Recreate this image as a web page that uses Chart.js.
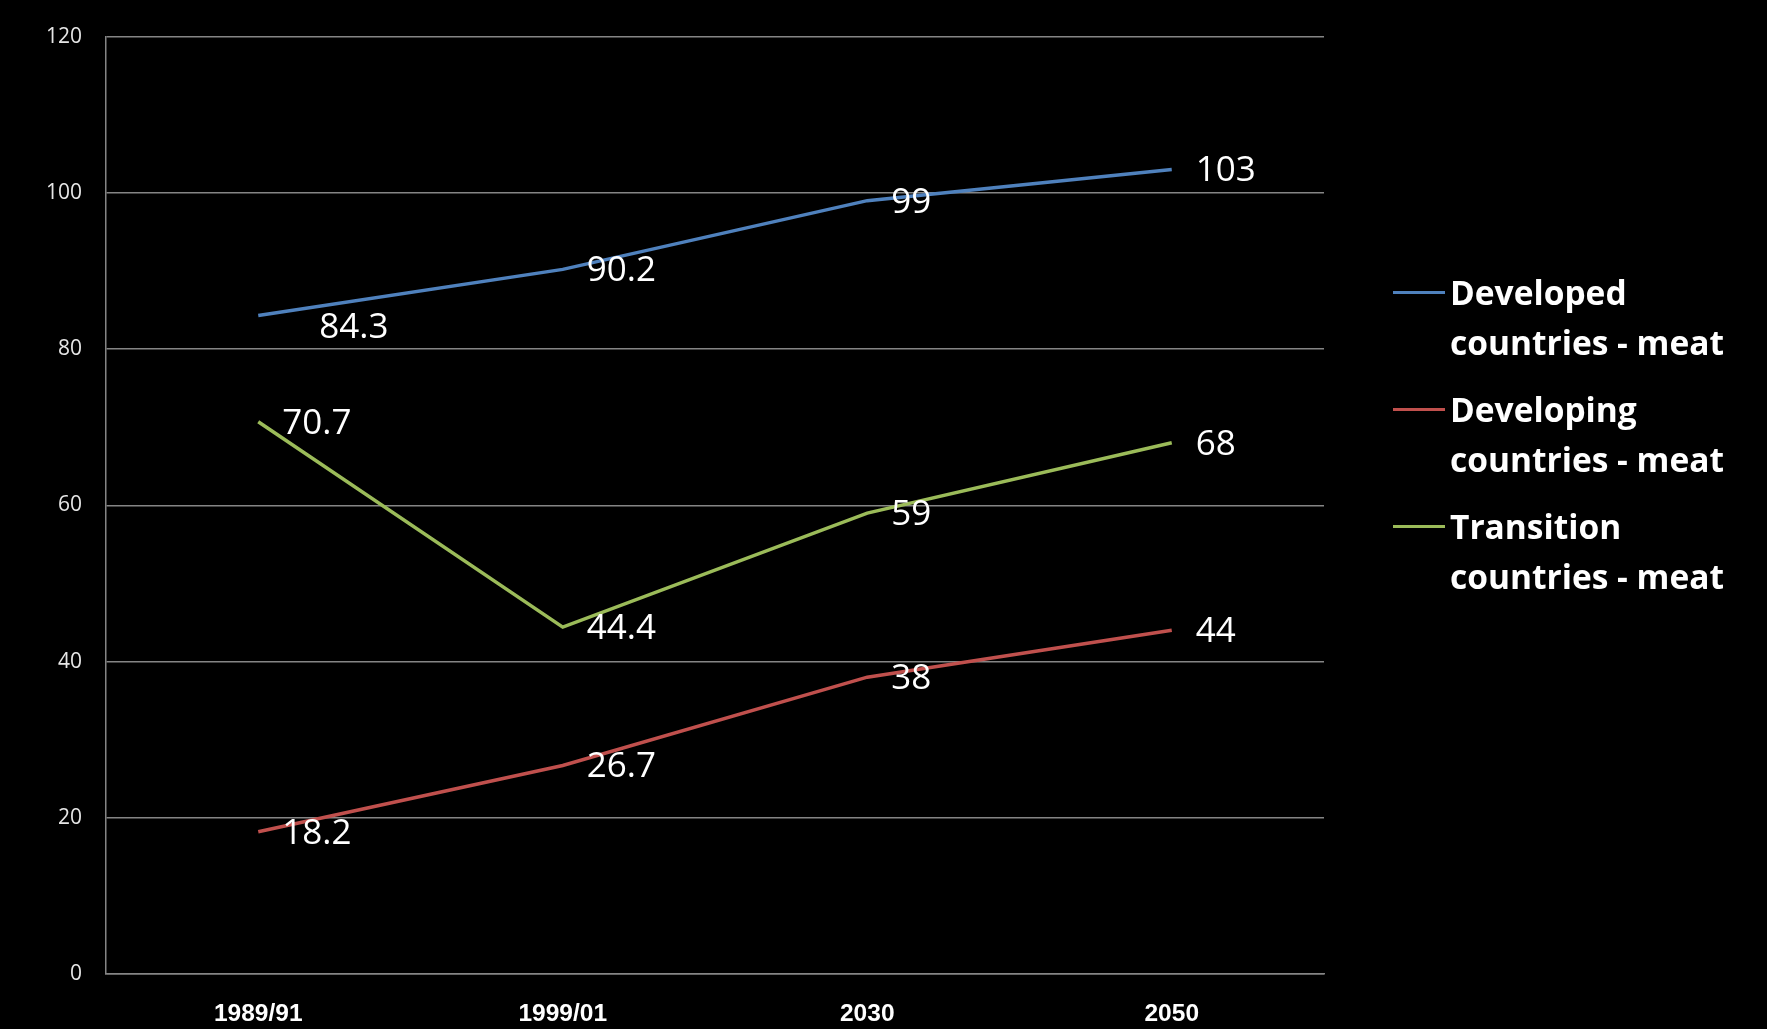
<!DOCTYPE html>
<html>
<head>
<meta charset="utf-8">
<script src="https://cdn.jsdelivr.net/npm/chart.js@4.4.0/dist/chart.umd.min.js"></script>
<style>
  html, body { margin: 0; padding: 0; background: #000; overflow: hidden; }
  #wrap { position: relative; width: 1767px; height: 1029px; background: #000; }
  canvas { position: absolute; left: 0; top: 0; }
  .leg { position: absolute; left: 1450px; font-family: "Open Sans", sans-serif; font-weight: bold;
         font-size: 33.5px; line-height: 50px; color: #fff; white-space: nowrap; }
  .sw { position: absolute; left: 1393px; width: 52px; height: 3px; }
</style>
</head>
<body>
<div id="wrap">
  <canvas id="c" width="1767" height="1029"></canvas>
  <div id="legend"></div>
</div>
<script>
const categories = ["1989/91", "1999/01", "2030", "2050"];
const developedMeat = [84.3, 90.2, 99, 103];
const developingMeat = [18.2, 26.7, 38, 44];
const transitionMeat = [70.7, 44.4, 59, 68];
const seriesNames = [
  ["Developed", "countries - meat"],
  ["Developing", "countries - meat"],
  ["Transition", "countries - meat"]
];
const seriesColors = ["#4F81BD", "#C0504D", "#9BBB59"];
const yTicks = [0, 20, 40, 60, 80, 100, 120];

// label placement (style only)
const labelDefault = [24, 2];
const labelShift = { "0-0": [61, 13] };

const valueLabels = {
  id: 'valueLabels',
  afterDatasetsDraw(chart) {
    const ctx = chart.ctx;
    ctx.save();
    ctx.font = '35px "Open Sans"';
    ctx.fillStyle = '#ffffff';
    ctx.textAlign = 'left';
    ctx.textBaseline = 'middle';
    chart.data.datasets.forEach((ds, di) => {
      const meta = chart.getDatasetMeta(di);
      meta.data.forEach((pt, pi) => {
        const off = labelShift[di + "-" + pi] || labelDefault;
        ctx.fillText(String(ds.data[pi]), pt.x + off[0], pt.y + off[1]);
      });
    });
    ctx.restore();
  }
};

const gridColor = '#858585';

new Chart(document.getElementById('c'), {
  type: 'line',
  data: {
    labels: categories,
    datasets: [developedMeat, developingMeat, transitionMeat].map((d, i) => ({
      label: seriesNames[i].join(' '),
      data: d,
      borderColor: seriesColors[i],
      backgroundColor: seriesColors[i],
      borderWidth: 3.5,
      pointRadius: 0,
      tension: 0,
      fill: false
    }))
  },
  options: {
    responsive: false,
    animation: false,
    devicePixelRatio: 1,
    layout: { padding: { left: 0, right: 443, top: 32, bottom: 0 } },
    plugins: { legend: { display: false }, tooltip: { enabled: false } },
    scales: {
      x: {
        offset: true,
        grid: { display: false, drawTicks: false },
        border: { display: true, color: gridColor, width: 1.5 },
        ticks: {
          color: '#ffffff',
          font: { family: '"Liberation Sans", Arial, sans-serif', size: 24.5, weight: 'bold' },
          padding: 26,
          maxRotation: 0
        },
        afterFit(s) { s.height = 55; }
      },
      y: {
        min: 0, max: 120,
        afterBuildTicks(s) { s.ticks = yTicks.map(v => ({ value: v })); },
        grid: { color: gridColor, lineWidth: 1.5, drawTicks: false },
        border: { display: true, color: gridColor, width: 1.5 },
        ticks: {
          color: '#e6e6e6',
          font: { family: '"Open Sans", sans-serif', size: 21 },
          padding: 24
        },
        afterFit(s) { s.width = 106; }
      }
    }
  },
  plugins: [valueLabels]
});

// HTML legend (multi-line labels)
const legendEl = document.getElementById('legend');
seriesNames.forEach((lines, i) => {
  const top = 267 + i * 117;
  const t = document.createElement('div');
  t.className = 'leg';
  t.style.top = top + 'px';
  t.innerHTML = lines.join('<br>');
  legendEl.appendChild(t);
  const sw = document.createElement('div');
  sw.className = 'sw';
  sw.style.top = (top + 24) + 'px';
  sw.style.background = seriesColors[i];
  legendEl.appendChild(sw);
});
</script>
</body>
</html>
